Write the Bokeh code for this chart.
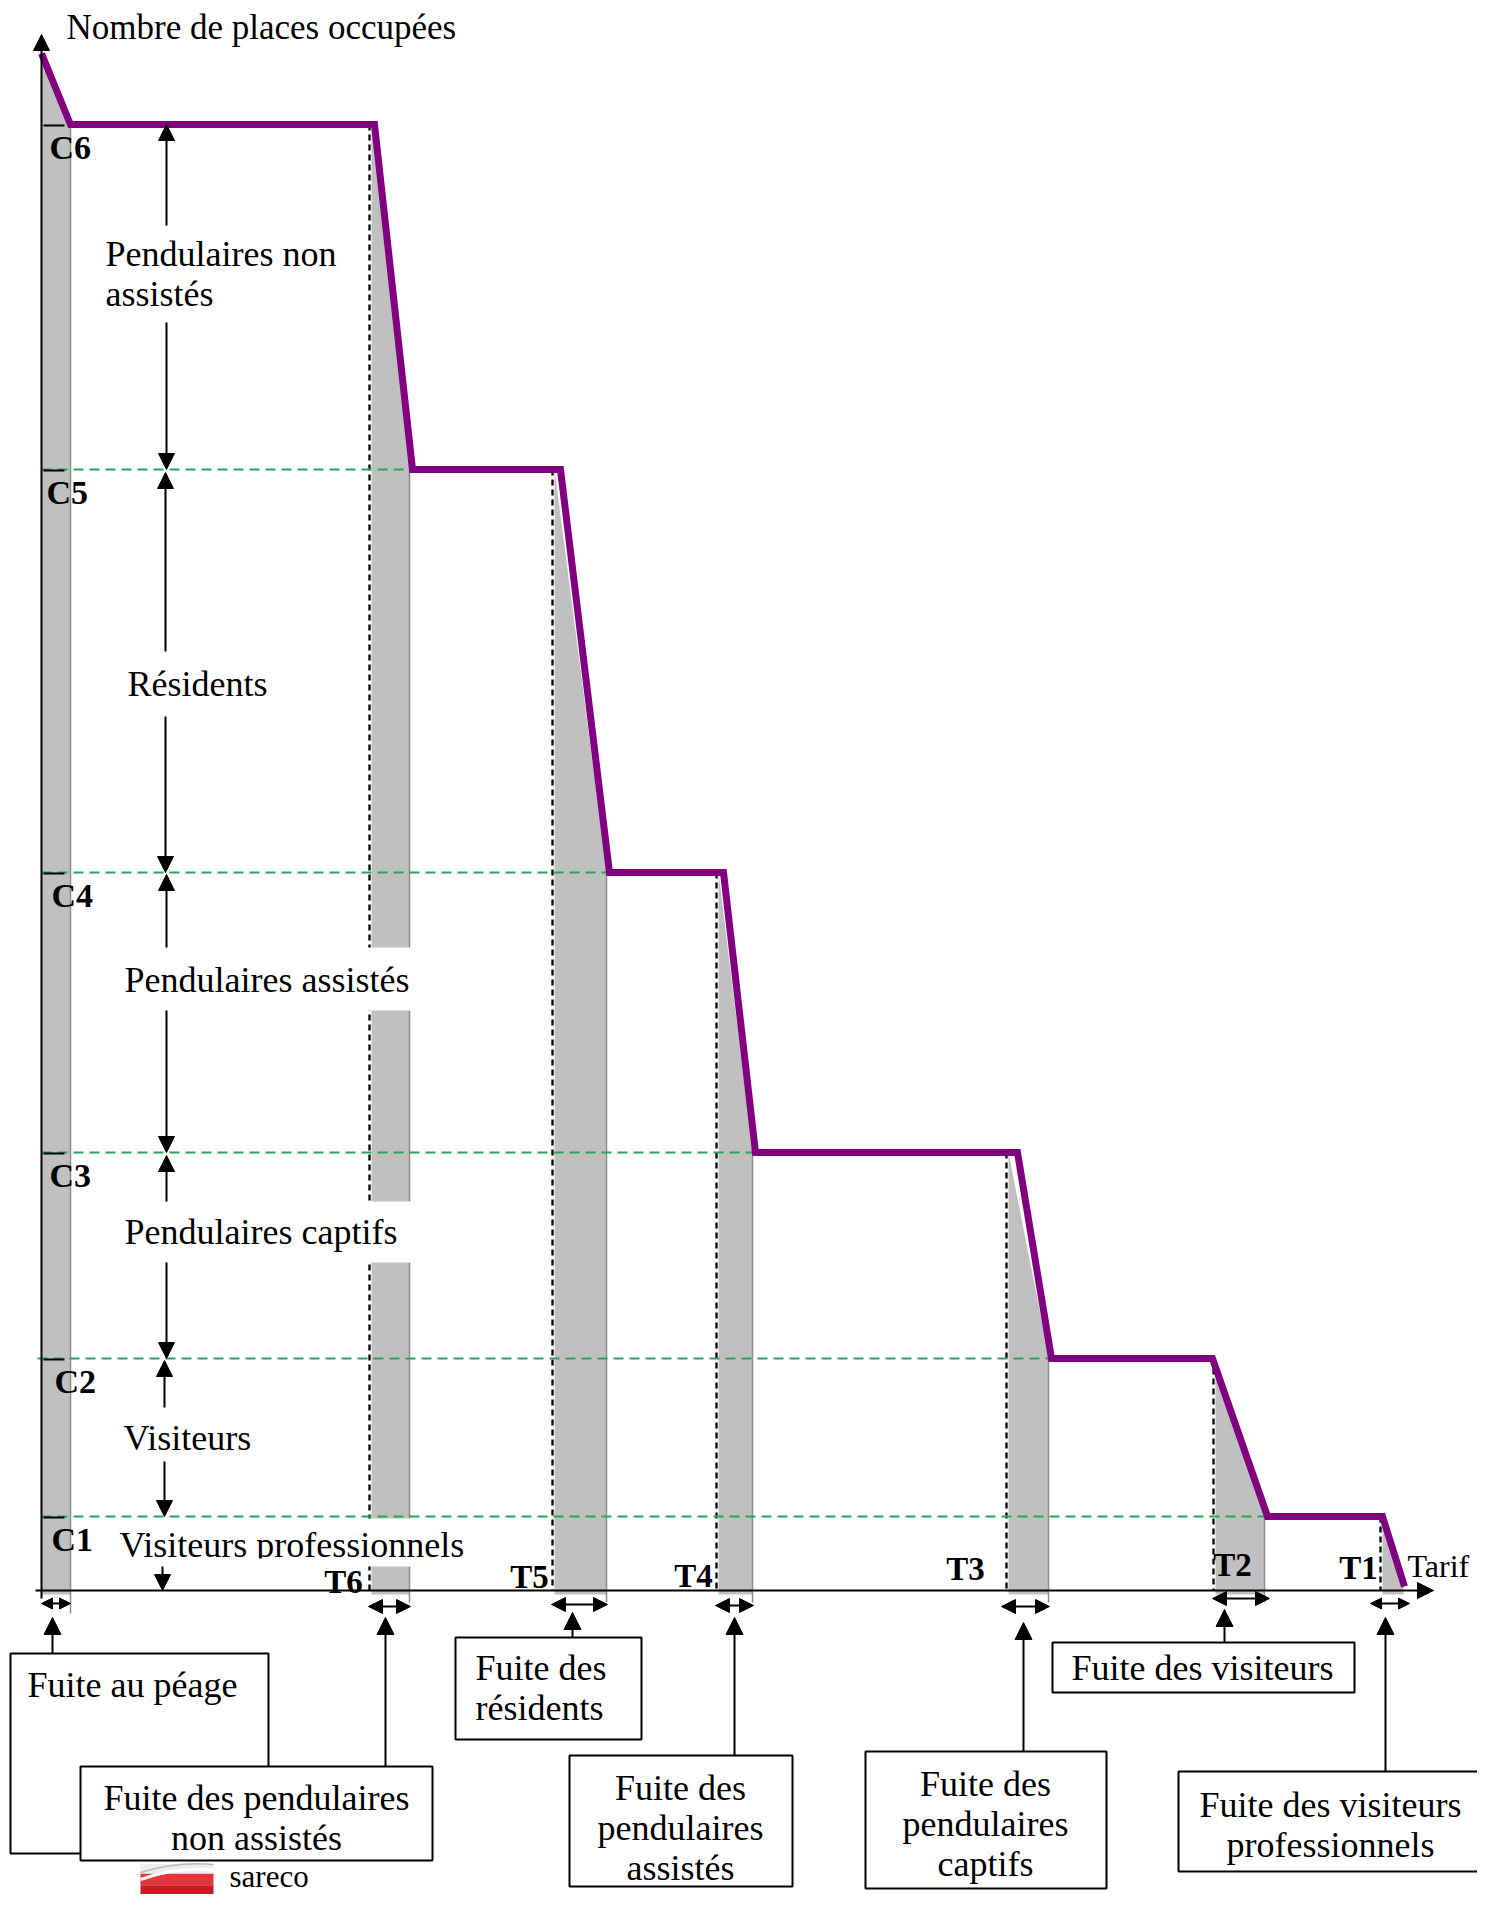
from bokeh.plotting import figure
from bokeh.models import Range1d, Arrow, NormalHead, ColumnDataSource
from bokeh.core.properties import value
from bokeh.embed import file_html
from bokeh.resources import INLINE

# ---------------- data (x = tarif, y = nombre de places occupées) ----------------
cap_names = ["C6", "C5", "C4", "C3", "C2", "C1"]
cap = [1466, 1121, 718, 438, 232, 74]
tar_names = ["T6", "T5", "T4", "T3", "T2", "T1"]
tar = [328, 511, 675, 965, 1172, 1339]
slope_start = [333, 519, 682, 976, 1171, 1341]
slope_end = [371, 568, 714, 1010, 1226, 1363]
demand_top = 1537
demand_free_end = 29
demand_last = 4

cat_lines = [["Pendulaires non", "assistés"], ["Résidents"], ["Pendulaires assistés"],
             ["Pendulaires captifs"], ["Visiteurs"], ["Visiteurs professionnels"]]
fuite_lines = [["Fuite au péage"], ["Fuite des pendulaires", "non assistés"],
               ["Fuite des", "résidents"], ["Fuite des", "pendulaires", "assistés"],
               ["Fuite des", "pendulaires", "captifs"], ["Fuite des visiteurs"],
               ["Fuite des visiteurs", "professionnels"]]
y_title = "Nombre de places occupées"
x_title = "Tarif"

# ---------------- layout / style ----------------
FONT = "Liberation Serif"
PURPLE = "#800080"
GRAY = "#c0c0c0"
GREEN = "#2f9e62"
FS = "36px"

p = figure(width=1477, height=1894, x_range=Range1d(-41, 1436), y_range=Range1d(-304, 1590),
           x_axis_type=None, y_axis_type=None, output_backend="svg", toolbar_location=None,
           min_border=0, min_border_left=0, min_border_right=0, min_border_top=0, min_border_bottom=0)
p.outline_line_color = None
p.background_fill_color = "white"


def txt(xs, ys, texts, size=FS, align="left", bold=False):
    p.text(x=xs, y=ys, text=texts, text_font=value(FONT), text_font_size=size,
           text_align=align, text_baseline="middle", text_color="black",
           text_font_style="bold" if bold else "normal")


next_level = cap[1:] + [demand_last]
demand_x = [0, demand_free_end]
demand_y = [demand_top, cap[0]]
for k in range(6):
    demand_x += [slope_start[k], slope_end[k]]
    demand_y += [cap[k], next_level[k]]

# gray "fuite" bands
bxs, bys = [[0, 0, demand_free_end, demand_free_end]], [[-4, demand_top, cap[0], -4]]
edge_x = [demand_free_end]
edge_top = [cap[0]]
edge_bot = [-23]
for k in range(6):
    left = tar[k] + 2
    right = slope_end[k] - 3
    bxs.append([left, left, right, right])
    bys.append([-4, cap[k], next_level[k] + 3, -4])
    edge_x.append(right)
    edge_top.append(next_level[k] + 3)
    edge_bot.append(-12)
bxs[-1][2] = bxs[-1][3] = slope_end[-1] - 1
p.patches(xs=bxs, ys=bys, fill_color=GRAY, line_color=None)
p.segment(x0=edge_x[:-1], y0=edge_top[:-1], x1=edge_x[:-1], y1=edge_bot[:-1], line_color="#8c8c8c", line_width=1.5)

# black dashed verticals at tariffs
p.segment(x0=tar, y0=cap, x1=tar, y1=[0] * 6, line_color="black", line_width=2.3, line_dash="6 4")

# white boxes behind category labels
wb_left = [50, 50, 50, 50, 50, 50]
wb_right = [320, 300, 382, 382, 300, 430]
wb_top = [1365, 939, 643, 389, 183, 72]
wb_bot = [1268, 874, 580, 328, 129, 24]
p.quad(left=wb_left, right=wb_right, top=wb_top, bottom=wb_bot, fill_color="white", line_color=None)

# green dashed capacity lines
g_x0 = [0, 0, 0, -4, 0]
p.segment(x0=g_x0, y0=cap[1:], x1=slope_end[:-1], y1=cap[1:], line_color=GREEN, line_width=1.8, line_dash="10 6")

# capacity ticks on the axis
p.segment(x0=[2] * 6, y0=[c - 1 for c in cap], x1=[23] * 6, y1=[c - 1 for c in cap], line_color="black", line_width=2)

# demand curve
p.line(demand_x, demand_y, line_color=PURPLE, line_width=7, line_join="miter")

# axes with arrows
head = lambda s: NormalHead(size=s, fill_color="black", line_color="black", line_width=1)
p.add_layout(Arrow(end=head(16), x_start=0, y_start=-8, x_end=0, y_end=1556, line_width=2, line_color="black"))
p.add_layout(Arrow(end=head(16), x_start=-6, y_start=0, x_end=1392, y_end=0, line_width=2, line_color="black"))

# category double arrows (split around the labels)
ca_x = [125, 125, 124, 124, 125, 125, 125, 125, 123, 123, 121]
ca_y0 = [1365, 1268, 939, 874, 643, 580, 389, 328, 183, 129, 24]
ca_y1 = [cap[0], cap[1], cap[1] - 3, cap[2], cap[2] - 2, cap[3], cap[3] - 3, cap[4], cap[4] - 2, cap[5], 0]
p.add_layout(Arrow(end=head(16), source=ColumnDataSource(dict(x0=ca_x, y0=ca_y0, x1=ca_x, y1=ca_y1)),
                   x_start="x0", y_start="y0", x_end="x1", y_end="y1", line_width=2, line_color="black"))

# horizontal double arrows below the axis (fuite widths)
da_off0 = [0, -1, -1, -1, -5, -1, -10]
da_off1 = [0, -2, -2, -2, -2, 2, 5]
da_x0 = [o + x for o, x in zip(da_off0, [0] + tar)]
da_x1 = [o + x for o, x in zip(da_off1, [demand_free_end] + slope_end)]
da_y = [-13, -16, -14, -15, -16, -8, -13]
small = [0, 6]
big = [1, 2, 3, 4, 5]
for idx, hs in ((big, 14), (small, 11)):
    src = ColumnDataSource(dict(x0=[da_x0[i] for i in idx], y0=[da_y[i] for i in idx],
                                x1=[da_x1[i] for i in idx], y1=[da_y[i] for i in idx]))
    p.add_layout(Arrow(start=head(hs), end=head(hs), source=src,
                       x_start="x0", y_start="y0", x_end="x1", y_end="y1", line_width=2.2, line_color="black"))

# fuite boxes
fb_left = [-31, 39, 414, 528, 824, 1011, 1137]
fb_right = [227, 391, 600, 751, 1065, 1313, 1440]
fb_top = [-63, -176, -47, -165, -161, -52, -181]
fb_bot = [-263, -270, -149, -296, -298, -102, -281]
p.quad(left=fb_left, right=fb_right, top=fb_top, bottom=fb_bot, fill_color="white", line_color="black", line_width=2)

# pointers from boxes to the fuite widths
pa_x = [11, 344, 531, 693, 982, 1183, 1344]
pa_tip = [-27, -27, -22, -27, -32, -19, -27]
p.add_layout(Arrow(end=head(17), source=ColumnDataSource(dict(x0=pa_x, y0=fb_top, x1=pa_x, y1=pa_tip)),
                   x_start="x0", y_start="y0", x_end="x1", y_end="y1", line_width=2, line_color="black"))

# ---- texts ----
txt([25], [1563], [y_title], size="35px")
txt([1366], [25], [x_title], size="32px")
txt([8, 5, 10, 8, 13, 10], [c - 23 for c in cap], cap_names, size="34px", bold=True)
t_off = [-26, -23, -23, -41, 19, -22]
t_y = [9, 14, 15, 22, 26, 23]
txt([t + o for t, o in zip(tar, t_off)], t_y, tar_names, size="33px", align="center", bold=True)

cat_x = [64, 86, 83, 83, 82, 78]
cat_y = [1337, 907, 611, 359, 153, 46]
lx, ly, lt = [], [], []
for x0, y0, lines in zip(cat_x, cat_y, cat_lines):
    for i, s in enumerate(lines):
        lx.append(x0); ly.append(y0 - 40 * i); lt.append(s)
txt(lx, ly, lt)
# clip bottom of "Visiteurs professionnels" like the original text box
p.quad(left=[60], right=[430], top=[32], bottom=[25], fill_color="white", line_color=None)

f_cx = [91, 215, 434, 639, 944, 1161, 1289]
f_cy = [-94, -207, -77, -197, -193, -77, -214]
f_align = ["center", "center", "left", "center", "center", "center", "center"]
for x0, y0, lines, al in zip(f_cx, f_cy, fuite_lines, f_align):
    txt([x0] * len(lines), [y0 - 40 * i for i in range(len(lines))], lines, align=al)

# sareco logo
lg_top = -273
lg_h = 31
p.quad(left=[99], right=[172], top=[lg_top], bottom=[lg_top - 0.33 * lg_h], fill_color="#eeeeee", line_color=None)
p.quad(left=[99], right=[172], top=[lg_top - 0.33 * lg_h], bottom=[lg_top - 0.7 * lg_h], fill_color="#e2363b", line_color=None)
p.quad(left=[99], right=[172], top=[lg_top - 0.7 * lg_h], bottom=[lg_top - lg_h], fill_color="#c81d22", line_color=None)
p.bezier(x0=[99], y0=[lg_top - 16], x1=[172], y1=[lg_top - 7], cx0=[125], cy0=[lg_top - 7], cx1=[150], cy1=[lg_top - 4],
         line_color="white", line_width=3)
p.bezier(x0=[99], y0=[lg_top - 9], x1=[172], y1=[lg_top - 1], cx0=[125], cy0=[lg_top - 1], cx1=[150], cy1=[lg_top + 1],
         line_color="#bbbbbb", line_width=1.5)
txt([188], [-286], ["sareco"], size="31px")

open("out.html", "w").write(file_html(p, INLINE))
